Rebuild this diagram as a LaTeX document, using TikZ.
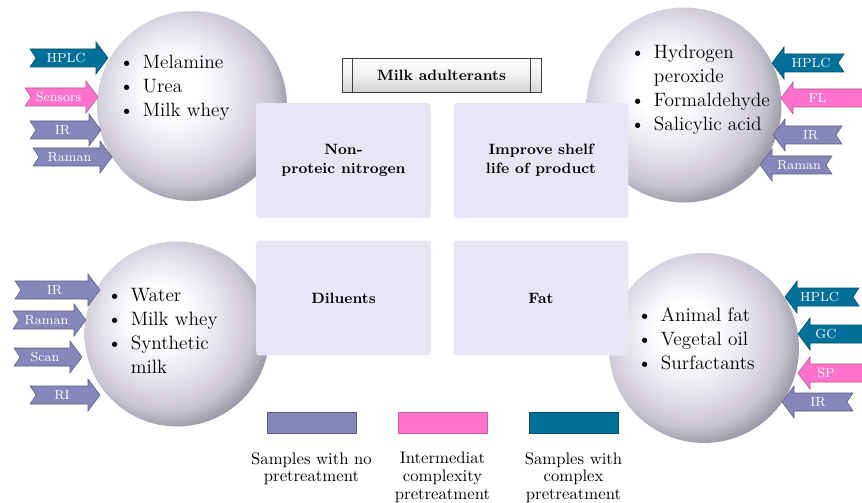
\documentclass[tikz,border=0pt]{standalone}
\usepackage{xcolor}
\usepackage{tikz}
\usetikzlibrary{positioning, calc}

\definecolor{boxlav}{RGB}{230,230,244}
\definecolor{noprep}{RGB}{134,134,186}
\definecolor{midprep}{RGB}{255,115,205}
\definecolor{fullprep}{RGB}{0,112,152}
\definecolor{ballin}{RGB}{240,238,245}
\definecolor{ballmid}{RGB}{224,220,231}
\definecolor{balledge}{RGB}{200,195,208}
\definecolor{balldark}{RGB}{150,145,160}
\definecolor{ballrim}{RGB}{112,108,120}

\pgfdeclareradialshading{milksphere}{\pgfpoint{-6bp}{6bp}}{%
  color(0bp)=(white); color(7bp)=(white); color(13bp)=(ballin);
  color(18bp)=(ballmid); color(24bp)=(balledge); color(29bp)=(balldark);
  color(34bp)=(ballrim); color(50bp)=(ballrim)}

%% arrow pointing right: name, tail x, tip x, y, colour, text
\newcommand{\techR}[6]{%
  \path[fill=#5, draw=#5!70!black, line width=0.3pt]
    ({#2},{#4-9}) -- ({#3-12},{#4-9}) -- ({#3-12},{#4-16}) -- ({#3},{#4})
    -- ({#3-12},{#4+16}) -- ({#3-12},{#4+9}) -- ({#2},{#4+9}) -- ({#2+6},{#4}) -- cycle;
  \node[techlbl] (#1) at ({(#2+#3)/2-3},{#4}) {#6};}
%% arrow pointing left: name, tip x, tail x, y, colour, text
\newcommand{\techL}[6]{%
  \path[fill=#5, draw=#5!70!black, line width=0.3pt]
    ({#3},{#4-9}) -- ({#2+12},{#4-9}) -- ({#2+12},{#4-16}) -- ({#2},{#4})
    -- ({#2+12},{#4+16}) -- ({#2+12},{#4+9}) -- ({#3},{#4+9}) -- ({#3-6},{#4}) -- cycle;
  \node[techlbl] (#1) at ({(#2+min(#3,848))/2+3},{#4}) {#6};}

\begin{document}
\begin{tikzpicture}[
  x=0.02cm, y=-0.02cm,
  milkball/.style={circle, shading=milksphere, inner sep=0pt},
  group/.style={fill=boxlav, rounded corners=2pt, minimum width=3.5cm,
                minimum height=2.3cm, align=center,
                font=\fontsize{8.5}{11}\selectfont\bfseries},
  items/.style={anchor=north west, inner sep=0pt,
                font=\fontsize{11}{13.5}\selectfont},
  techlbl/.style={text=white, inner sep=0pt, font=\fontsize{7.5}{8}\selectfont},
  keybox/.style={minimum width=1.78cm, minimum height=0.42cm, line width=0.4pt},
  keytxt/.style={anchor=north, align=center, inner sep=0pt,
                 font=\fontsize{9.5}{10}\selectfont}
]
\useasboundingbox (0,0) rectangle (862,503);

%% spheres
\node[milkball, minimum size=3.8cm] (ballNPN)   at (192,106) {};
\node[milkball, minimum size=3.9cm] (ballShelf) at (684,105) {};
\node[milkball, minimum size=3.7cm] (ballDil)   at (177,334) {};
\node[milkball, minimum size=3.8cm] (ballFat)   at (704,348) {};

%% adulterant groups
\node[group] (npn)   at (343.5,160.5) {Non-\\proteic nitrogen};
\node[group] (shelf) at (541,160.5)   {Improve shelf\\life of product};
\node[group] (dil)   at (343.5,298)   {Diluents};
\node[group] (fat)   at (541,298)     {Fat};

%% title
\node[draw=black!75, top color=white, bottom color=gray!35, middle color=gray!12,
      minimum width=3.98cm, minimum height=0.68cm,
      font=\fontsize{8.5}{10}\selectfont\bfseries] (title) at (441.5,75) {Milk adulterants};
\draw[black!75] ([xshift=0.22cm]title.north west) -- ([xshift=0.22cm]title.south west);
\draw[black!75] ([xshift=-0.22cm]title.north east) -- ([xshift=-0.22cm]title.south east);

%% lists
\node[items] (listNPN) at (119,52) {\begin{tabular}{@{}l@{\hspace{5pt}}l@{}}
  \textbullet & Melamine\\ \textbullet & Urea\\ \textbullet & Milk whey\end{tabular}};
\node[items] (listShelf) at (630,42) {\begin{tabular}{@{}l@{\hspace{5pt}}l@{}}
  \textbullet & Hydrogen\\ & peroxide\\ \textbullet & Formaldehyde\\
  \textbullet & Salicylic acid\end{tabular}};
\node[items] (listDil) at (107,285) {\begin{tabular}{@{}l@{\hspace{5pt}}l@{}}
  \textbullet & Water\\ \textbullet & Milk whey\\ \textbullet & Synthetic\\ & milk\end{tabular}};
\node[items] (listFat) at (637,305) {\begin{tabular}{@{}l@{\hspace{5pt}}l@{}}
  \textbullet & Animal fat\\ \textbullet & Vegetal oil\\ \textbullet & Surfactants\end{tabular}};

%% techniques, top left
\techR{tlHPLC}{30}{108}{58}{fullprep}{HPLC}
\techR{tlSens}{25}{98}{97}{midprep}{Sensors}
\techR{tlIR}{30}{101}{130}{noprep}{IR}
\techR{tlRaman}{33}{112}{157}{noprep}{Raman}
%% techniques, top right
\techL{trHPLC}{772}{844}{63}{fullprep}{HPLC}
\techL{trFL}{781}{872}{98}{midprep}{FL}
\techL{trIR}{773}{842}{135}{noprep}{IR}
\techL{trRaman}{760}{832}{165}{noprep}{Raman}
%% techniques, bottom left
\techR{blIR}{15}{100}{290}{noprep}{IR}
\techR{blRaman}{13}{86}{320}{noprep}{Raman}
\techR{blScan}{14}{82}{357}{noprep}{Scan}
\techR{blRI}{30}{100}{395}{noprep}{RI}
%% techniques, bottom right
\techL{brHPLC}{785}{859}{297}{fullprep}{HPLC}
\techL{brGC}{798}{872}{334}{fullprep}{GC}
\techL{brSP}{798}{872}{373}{midprep}{SP}
\techL{brIR}{782}{853}{402}{noprep}{IR}

%% legend
\node[keybox, fill=noprep, draw=noprep!70!black]     (keyNo)  at (311.5,422.5) {};
\node[keybox, fill=midprep, draw=midprep!80!black]   (keyMid) at (442.5,422.5) {};
\node[keybox, fill=fullprep, draw=fullprep!70!black] (keyFull) at (573.5,422.5) {};
\node[keytxt] (txtNo)   at (311.5,452) {Samples with no\\pretreatment};
\node[keytxt] (txtMid)  at (442.5,452) {Intermediat\\complexity\\pretreatment};
\node[keytxt] (txtFull) at (573.5,452) {Samples with\\complex\\pretreatment};
\end{tikzpicture}
\end{document}
